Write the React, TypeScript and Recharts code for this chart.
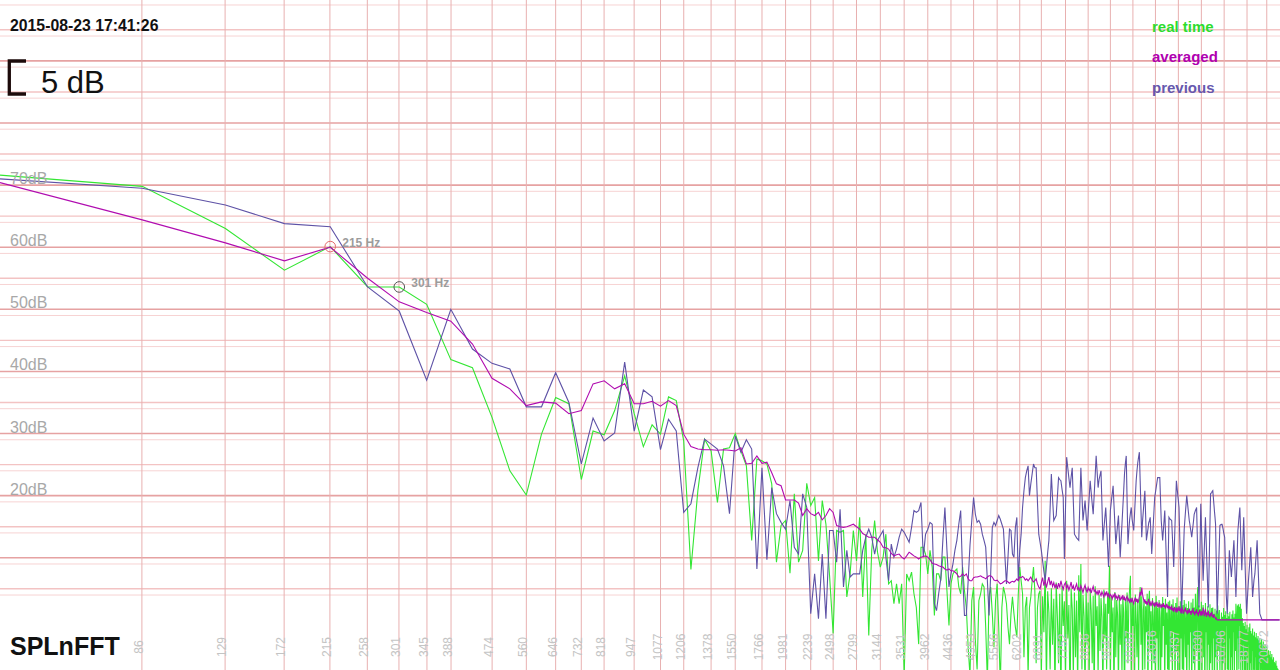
import { CartesianGrid, Line, LineChart, ReferenceDot, XAxis, YAxis } from "recharts";

const FONT = '"Liberation Sans", Arial, Helvetica, sans-serif';
const BIN_HZ = 44100 / 1024;

// FFT bins 1..511, dB
const REAL_TIME = [
  71.6, 69.8, 63.0, 56.3, 60.1, 53.6, 53.6, 50.8, 41.9, 40.6,
  32.6, 24.0, 20.1, 29.9, 35.8, 34.8, 22.6, 30.4, 29.8, 33.7,
  39.3, 33.2, 27.9, 31.4, 29.9, 35.9, 35.3, 28.8, 8.1, 20.8,
  29.1, 27.2, 18.9, 27.5, 27.7, 30.0, 27.2, 24.8, 12.8, 25.9,
  25.6, 25.1, 21.9, 9.3, 15.2, 16.0, 7.5, 20.3, 9.3, 11.2,
  22.0, 18.4, 19.7, 9.5, 19.2, 15.4, 7.1, -2.2, 14.4, 14.1,
  14.4, 3.7, 7.4, 14.4, 9.5, 16.5, 3.7, 13.8, -2.5, 11.2,
  16.0, 10.9, 8.5, 10.1, 13.8, 5.8, 6.3, 2.6, 5.8, 2.6,
  5.8, -9.0, 7.4, 6.3, 7.7, 4.2, 2.0, -3.9, 11.7, 11.7,
  10.6, 7.4, 11.2, 8.5, 0.7, 7.4, 7.4, 6.3, 10.1, 10.1,
  4.7, -0.9, 5.8, 7.4, 7.9, 8.2, 5.3, 4.2, 8.5, 4.7,
  2.0, -4.4, -9.0, 3.1, 5.3, -3.3, -8.0, 3.1, 4.2, 5.8,
  5.3, -1.2, -10, 3.7, 5.3, 1.0, -4.4, 3.1, 5.8, -1.2,
  -11, 2.0, 5.3, 4.2, 2.6, -1.2, -3.9, 1.0, 3.7, 1.0,
  -1.2, -2.8, 4.2, 8.5, 6.3, 4.2, -6.0, 2.0, 3.7, -9.0,
  2.0, 3.7, 6.3, 8.5, 4.7, -7.0, 2.0, 4.2, 4.7,
  -9, 3.8, -2, 9.5, -11, 4.6, 1.2, -8, 5.1, -4,
  3.4, -12, 6.0, 0.5, -7, 4.2, -13, 5.5, -1, 3.0,
  -10, 6.3, -3, 2.4, -14, 5.0, 1.8, -9, 4.4, -6,
  3.1, -11, 7.2, -2, 9.0, -8, 4.0, 0.6, -12, 5.2,
  -4, 2.8, -10, 4.7, 1.5, -7, 3.9, -13, 5.4, -1,
  2.2, -9, 4.1, -5, 3.5, 0.4, -12, 4.9, -3, 2.6,
  -8, 4.3, 1.0, 8.7, -10, 3.7, -2, 2.0, -13, 4.5,
  -6, 3.2, 0.8, -11, 4.0, -4, 2.5, -9, 3.8, 1.1,
  -14, 3.0, -3, 4.4, -7, 2.1, 5.0, 7.1, -10, 3.6,
  -1, 2.7, -12, 4.1, 0.2, -6, 3.3, -9, 2.4, 5.3,
  -4, 3.8, -11, 1.6, 3.0, -8, 2.2, -2, 4.2, -13,
  2.9, 4.7, -5, 1.4, -10, 3.5, 0.6, -7, 2.8, -12,
  3.9, -3, 1.9, -9, 3.2, 0.3, -14, 2.6, -6, 3.7,
  -1, 2.0, -11, 3.4, -4, 1.2, -8, 2.9, -13, 3.1,
  0.9, -6, 2.5, -10, 3.3, -2, 1.6, -12, 2.7, -5,
  3.6, -9, 0.7, 2.2, -14, 3.0, -3, 1.8, -8, 2.4,
  -11, 3.2, 0.1, -6, 2.6, -13, 1.9, -4, 3.0, -9,
  1.4, -2, 2.8, -12, 0.8, 3.4, -7, 2.0, -10, 4.2,
  1.1, -5, 3.8, 5.3, -9, 2.3, -14, 1.7, -3, 2.9,
  -11, 0.6, 2.4, -6, 1.5, -13, 2.7, -2, 0.9, -9,
  2.2, -4, 1.3, -12, 2.5, -7, 0.4, 1.9, -10, 2.0,
  -3, 1.0, -14, 1.8, -6, 0.2, 1.5, -11, 2.3, -5,
  0.7, 1.6, -9, 0.1, -2, 1.2, -13, 0.5, -7, 1.9,
  -4, 0.8, -12, 1.4, -1, 0.3, -8, 1.1, -10, 0.6,
  -3, 1.3, -14, 0.2, -6, 0.9, -11, 1.5, -2, 0.4,
  -9, 1.0, -5, 2.6, 0.1, -13, 2.3, -3, 2.5, -8,
  2.1, -1, 2.6, -10, 1.8, -6, 0.3, -12, -0.5, -4,
  -1.0, -9, -0.3, -14, -1.5, -6, -0.8, -11, -2.0, -4,
  -1.2, -13, -0.6, -7, -1.8, -10, -2.2, -5, -1.4, -12,
  -2.5, -8, -1.9, -14, -2.8, -6, -2.1, -11, -3.0, -9,
  -2.6, -13, -3.3, -7, -2.9, -10, -3.6, -12, -3.1, -8,
  -4.0, -14, -3.5, -9, -4.4, -11, -3.9, -13, -4.8, -10,
  -4.3, -12, -5.2, -9, -4.9, -14, -5.6, -11, -5.0, -13,
  -6.0, -10, -5.5, -12, -6.4, -14, -6.0, -11, -6.8, -13,
  -7.0, -12, -6.6, -14, -7.4, -11, -7.8, -13, -8.0, -12, -8.4, -14,
];

const AVERAGED = [
  70.4, 64.4, 60.7, 57.8, 60.0, 55.0, 51.2, 49.5, 48.1, 44.4,
  38.9, 37.2, 34.5, 35.1, 34.9, 33.2, 33.7, 38.0, 38.5, 37.2,
  38.0, 34.8, 34.8, 35.2, 34.4, 35.3, 34.5, 29.9, 27.9, 27.5,
  27.4, 27.4, 27.3, 27.4, 27.3, 27.2, 27.7, 25.1, 25.2, 26.4,
  25.2, 25.4, 23.7, 21.9, 21.6, 19.3, 19.3, 19.3, 18.8, 16.8,
  17.9, 17.1, 16.8, 17.3, 16.1, 16.8, 17.9, 17.3, 15.2, 15.0,
  14.9, 15.0, 15.2, 15.4, 15.0, 14.6, 13.9, 13.6, 13.3, 13.3,
  13.3, 12.9, 12.5, 11.7, 11.6, 11.4, 10.7, 10.3, 10.5, 10.6,
  10.1, 9.8, 10.3, 10.9, 10.6, 10.3, 10.1, 9.8, 10.1, 10.2,
  10.3, 10.1, 9.7, 9.1, 9.0, 8.9, 8.7, 8.6, 8.5, 8.2,
  8.0, 8.2, 7.9, 7.9, 7.7, 7.4, 6.9, 7.0, 7.4, 7.1,
  7.4, 6.6, 6.3, 6.3, 6.8, 6.9, 6.9, 7.0, 7.1, 6.9,
  6.8, 6.6, 6.9, 7.1, 7.1, 6.9, 6.4, 6.3, 6.4, 6.1,
  5.8, 5.9, 6.1, 6.3, 6.3, 6.1, 5.9, 6.1, 6.2, 6.1,
  6.3, 6.6, 6.3, 6.9, 6.8, 7.0, 6.8, 6.4, 6.6, 6.3,
  6.6, 6.9, 6.4, 6.1, 6.3, 6.6, 5.8, 5.3, 5.0,
  6.0, 6.8, 5.5, 6.4, 5.2, 6.1, 6.9, 5.6, 6.3, 5.4, 6.0, 5.1, 5.8,
  5.0, 5.9, 5.2, 6.3, 5.5, 4.9, 5.7, 6.0, 5.1, 5.6,
  4.8, 5.4, 6.1, 5.0, 5.5, 4.7, 5.3, 5.8, 4.9, 5.2,
  4.6, 5.5, 5.0, 4.4, 5.1, 5.6, 4.8, 4.5, 5.2, 4.7,
  5.0, 4.3, 4.9, 5.4, 4.6, 4.8, 4.2,
  4.6, 4.0, 4.8, 4.3, 3.9, 4.5, 4.1, 3.7, 4.4, 4.0,
  4.6, 3.8, 4.2, 3.6, 4.1, 3.9, 3.4, 4.0, 3.7, 4.3,
  3.5, 3.8, 3.3, 3.9, 3.6, 3.1, 3.7, 3.4, 4.0, 3.2,
  3.6, 3.0, 3.5, 3.8, 3.1, 3.4, 2.9,
  3.3, 2.8, 3.5, 3.0, 2.6, 3.2, 3.6, 2.9, 3.4, 2.7,
  3.1, 3.8, 4.5, 3.9, 5.2, 4.1, 3.5, 2.9, 3.3, 2.6,
  3.0, 2.4, 2.9, 3.4, 2.5, 2.8, 2.2, 2.7, 3.1, 2.4,
  2.6, 2.1, 2.8, 2.3, 2.9, 2.2, 2.5, 2.0, 2.6, 2.3,
  1.9, 2.5, 2.1, 2.7, 2.0, 2.4, 1.8, 2.2, 2.6, 1.9,
  2.3, 1.7, 2.1,
  2.0, 1.6, 2.3, 1.5, 1.9, 1.3, 2.1, 1.7, 1.4, 2.0,
  1.2, 1.8, 1.5, 2.2, 1.4, 1.7, 1.1, 1.6, 1.9, 1.3,
  1.0, 1.7, 1.4, 2.0, 1.2, 1.5, 0.9, 1.6, 1.3, 1.8,
  1.1, 1.4, 0.8, 1.5, 1.2, 1.9, 1.0, 1.3, 0.7, 1.4,
  1.1, 1.7, 0.9, 1.2, 0.6, 1.3, 1.6, 1.0, 0.8, 1.4,
  0.7, 1.1, 2.0, 1.2, 0.6, 1.0, 1.8, 0.9, 0.5, 1.2,
  0.8, 1.5, 0.6, 0.9, 0.4, 1.1, 0.7, 1.3, 0.5, 0.8,
  0.3, 0.9, 0.6, 0.4, 0.2, 0.3, 0.1,
  0, 0, 0, 0, 0, 0, 0, 0, 0, 0,
  0, 0, 0, 0, 0, 0, 0, 0, 0, 0,
  0, 0, 0, 0, 0, 0, 0, 0, 0, 0,
  0, 0, 0, 0, 0, 0, 0, 0, 0, 0,
  0, 0, 0, 0, 0, 0, 0, 0, 0, 0,
  0, 0, 0, 0, 0, 0, 0, 0, 0, 0,
  0, 0, 0, 0, 0, 0, 0, 0, 0, 0,
  0, 0, 0, 0, 0, 0, 0, 0, 0, 0,
  0, 0, 0, 0, 0, 0, 0, 0, 0, 0,
  0, 0, 0, 0, 0, 0, 0, 0, 0, 0,
  0, 0, 0, 0, 0, 0, 0, 0, 0, 0,
  0, 0, 0, 0, 0, 0, 0, 0, 0, 0,
  0, 0, 0, 0, 0, 0, 0, 0, 0, 0,
  0, 0, 0, 0, 0,
];

const PREVIOUS = [
  71.0, 69.5, 66.8, 63.8, 63.3, 53.6, 49.7, 38.6, 50.0, 43.6,
  41.3, 40.4, 34.3, 34.3, 39.8, 35.0, 25.1, 32.5, 28.8, 30.1,
  41.5, 30.4, 37.0, 35.9, 27.4, 32.3, 30.4, 17.3, 18.7, 24.5,
  29.1, 28.3, 27.5, 24.8, 17.1, 29.6, 27.0, 29.0, 27.5, 8.2,
  24.5, 9.7, 21.3, 17.1, 15.7, 14.6, 19.2, 11.7, 10.6, 20.3,
  18.1, 1.0, 7.4, 0.2, 10.6, 0.2, 14.4, 14.4, 9.3, 17.8,
  5.3, 11.2, 6.9, 7.4, 7.4, 7.4, 11.2, 13.3, 14.6, 13.3,
  10.6, 12.8, 13.6, 14.4, 10.1, 6.3, 12.2, 10.1, 11.4, 13.3,
  14.6, 14.1, 13.3, 12.5, 14.9, 17.6, 17.3, 17.6, 18.9, 10.1,
  13.8, 14.6, 15.7, 15.4, 2.6, 1.5, 4.2, 6.6, 12.8, 18.1,
  11.2, 5.3, 7.4, 9.0, 11.2, 12.8, 15.4, 17.6, 7.4, 0.7,
  0.7, 6.3, 12.0, 16.0, 19.7, 17.0, 15.7, 16.0, 15.4, 13.8,
  12.8, 11.7, 6.3, 0.7, 7.4, 14.9, 15.7, 15.2, 16.0, 16.8,
  16.2, 15.4, 14.6, 10.1, 5.8, 10.1, 14.6, 14.4, 10.6, 10.1,
  14.9, 16.5, 6.3, 11.2, 13.8, 18.1, 20.8, 22.9, 24.0, 24.8,
  20.0, 21.9, 23.5, 25.1, 24.5, 24.5, 19.0, 13.8, 12.5,
  11.2, 9.5, 7.8, 6.3, 8.5, 10.8, 12.8, 18.0, 23.5, 19.5,
  16.0, 16.4, 16.8, 19.8, 22.9, 22.6, 22.4, 21.0, 19.7, 9.8,
  18.0, 26.2, 24.5, 22.8, 21.3, 23.0, 24.5, 19.0, 13.8, 13.5,
  13.2, 13.0, 12.8, 18.6, 24.5, 20.2, 16.0, 17.6, 19.2, 16.8,
  14.4, 17.0, 19.7, 22.4, 20.5, 18.7, 17.0, 20.1, 23.2, 26.4,
  23.8, 21.3, 22.6, 23.3, 24.0, 18.4, 12.8, 14.6, 16.4, 18.1,
  14.9, 11.7, 8.5, 13.0, 17.6, 19.0, 20.3, 21.6, 18.4, 15.3,
  12.2, 13.7, 15.3, 16.8, 13.4, 10.1, 12.8, 15.4, 18.1, 20.8,
  23.6, 25.2, 26.4, 19.3, 12.2, 14.2, 16.1, 17.2, 18.1, 16.2,
  15.3, 14.4, 17.1, 19.8, 22.4, 24.0, 25.3, 26.2, 27.0, 22.4,
  17.8, 13.3, 15.9, 17.5, 19.2, 20.8, 16.8, 12.8, 13.7, 14.6,
  15.6, 16.0, 16.5, 13.6, 10.6, 12.9, 15.2, 17.5, 19.7, 20.5,
  21.3, 22.1, 22.9, 22.9, 22.9, 22.9, 19.4, 16.0, 14.4, 12.8,
  14.4, 16.0, 17.6, 14.1, 10.6, 7.2, 3.7, 10.1, 16.5, 16.3,
  16.2, 16.1, 16.0, 13.5, 11.0, 8.5, 12.0, 15.5, 19.0, 22.4,
  21.3, 20.2, 19.2, 18.1, 13.8, 9.6, 5.3, 1.0, 4.4, 7.9,
  11.3, 14.6, 16.0, 17.4, 18.7, 20.0, 19.0, 18.0, 17.0, 16.0,
  15.4, 14.7, 14.0, 13.3, 14.2, 15.1, 16.0, 17.0, 17.3, 17.6,
  17.8, 18.1, 14.1, 10.1, 6.0, 2.0, 7.6, 13.1, 18.7, 15.6,
  12.5, 9.4, 6.3, 8.8, 11.4, 14.0, 16.5, 13.6, 10.7, 7.8,
  4.9, 2.0, 6.6, 11.2, 15.8, 20.3, 20.4, 20.5, 20.7, 20.8,
  19.7, 18.6, 17.5, 16.5, 15.4, 10.6, 5.8, 1.0, 3.8, 6.7,
  9.5, 12.4, 15.2, 15.3, 15.3, 15.4, 15.4, 15.0, 14.6, 14.1,
  13.7, 13.3, 10.2, 7.2, 4.1, 2.5, 1.0, 3.6, 6.1, 8.7,
  11.2, 10.1, 9.0, 8.0, 6.9, 8.1, 9.2, 10.4, 11.6, 12.8,
  10.5, 8.2, 6.0, 3.7, 6.4, 9.0, 11.7, 14.4, 15.3, 16.3,
  17.2, 18.1, 15.6, 13.0, 10.5, 8.0, 10.1, 12.3, 14.4, 16.5,
  13.9, 11.2, 8.6, 6.0, 3.5, 1.0, 2.3, 3.7, 5.0, 6.3,
  7.4, 8.4, 9.5, 10.6, 11.7, 9.7, 7.7, 5.7, 3.7, 4.6,
  5.5, 6.4, 6.9, 7.4, 8.5, 9.6, 10.6, 11.7, 12.8, 10.8,
  8.9, 6.9, 5.0, 3.0, 1.0, 0.8, 0.6, 0.4, 0.2, 0,
  0, 0, 0, 0, 0, 0, 0, 0, 0, 0,
  0, 0, 0, 0, 0, 0, 0, 0, 0, 0,
  0, 0, 0, 0, 0, 0, 0, 0, 0, 0,
  0, 0, 0, 0, 0, 0, 0, 0, 0, 0,
  0, 0,
];

const TICK_HZ = [
  86, 129, 172, 215, 258, 301, 345, 388, 474, 560, 646, 732, 818, 947, 1077, 1206,
  1378, 1550, 1766, 1981, 2239, 2498, 2799, 3144, 3531, 3962, 4436, 4953, 5556,
  6202, 6891, 7752, 8656, 9647, 10767, 12016, 13437, 15030, 16796, 18777, 20672,
];
const DB_LABELS = [20, 30, 40, 50, 60, 70];
const DB_LINES = Array.from({ length: 99 }, (_, i) => i + 1);
const DB_MINOR = DB_LINES.filter((v) => v % 5 !== 0);
const DB_HALF = DB_LINES.filter((v) => v % 10 === 5);
const DB_MAJOR = DB_LINES.filter((v) => v % 10 === 0);

const PEAKS = [
  { bin: 5, label: "215 Hz", color: "#e46a6a" },
  { bin: 7, label: "301 Hz", color: "#555555" },
];

const LEGEND = [
  { name: "real time", color: "#2ddc2d" },
  { name: "averaged", color: "#b000b0" },
  { name: "previous", color: "#6658ae" },
];

function HzTick(p: any) {
  const x = p.x - 3;
  const y = 647;
  return (
    <text
      x={x}
      y={y}
      transform={`rotate(-90 ${x} ${y})`}
      textAnchor="middle"
      dominantBaseline="central"
      fill="#c4c4c4"
      fontSize={12}
      fontFamily={FONT}
    >
      {p.payload.value}
    </text>
  );
}

function DbTick(p: any) {
  return (
    <text x={10} y={p.y - 1} fill="#a8a8a8" fontSize={16} fontFamily={FONT}>
      {`${p.payload.value}dB`}
    </text>
  );
}

function peakShape(label: string, color: string) {
  return (p: any) => (
    <g>
      <circle cx={p.cx} cy={p.cy} r={5.3} fill="none" stroke={color} strokeWidth={1} />
      <text x={p.cx + 12} y={p.cy} fill="#9c9c9c" fontSize={12} fontWeight="bold" fontFamily={FONT}>
        {label}
      </text>
    </g>
  );
}

export default function App() {
  const rows = REAL_TIME.map((v, i) => ({
    hz: (i + 1) * BIN_HZ,
    real: v,
    avg: AVERAGED[i],
    prev: PREVIOUS[i],
  }));

  return (
    <div style={{ position: "fixed", left: 0, top: 0, width: 1280, height: 670, background: "#fff" }}>
      <LineChart width={1280} height={670} data={rows} margin={{ top: 0, right: 0, bottom: 0, left: 0 }}>
        <CartesianGrid vertical={false} horizontalValues={DB_MINOR} stroke="#f7d3d3" strokeWidth={1} />
        <CartesianGrid vertical={false} horizontalValues={DB_HALF} stroke="#f3c3c3" strokeWidth={1.4} />
        <CartesianGrid vertical={false} horizontalValues={DB_MAJOR} stroke="#e6a2a2" strokeWidth={1.6} />
        <CartesianGrid horizontal={false} verticalValues={TICK_HZ} stroke="#e8b0b0" strokeWidth={1} />
        <XAxis
          dataKey="hz"
          type="number"
          scale="log"
          domain={[BIN_HZ, 512 * BIN_HZ]}
          allowDataOverflow
          ticks={TICK_HZ}
          interval={0}
          mirror
          axisLine={false}
          tickLine={false}
          tick={HzTick}
        />
        <YAxis
          type="number"
          domain={[-8.07, 99.8]}
          allowDataOverflow
          ticks={DB_LABELS}
          mirror
          axisLine={false}
          tickLine={false}
          tick={DbTick}
        />
        <Line dataKey="real" stroke="#33e633" strokeWidth={1.1} dot={false} activeDot={false} isAnimationActive={false} />
        <Line dataKey="prev" stroke="#5e52a6" strokeWidth={1.1} dot={false} activeDot={false} isAnimationActive={false} />
        <Line dataKey="avg" stroke="#b00cb0" strokeWidth={1.1} dot={false} activeDot={false} isAnimationActive={false} />
        {PEAKS.map((pk) => (
          <ReferenceDot
            key={pk.label}
            x={pk.bin * BIN_HZ}
            y={REAL_TIME[pk.bin - 1]}
            r={5}
            shape={peakShape(pk.label, pk.color)}
          />
        ))}
      </LineChart>
      <svg
        width={1280}
        height={670}
        style={{ position: "absolute", left: 0, top: 0, pointerEvents: "none" }}
        fontFamily={FONT}
      >
        <text x={10} y={31} fontSize={15.8} fontWeight="bold" fill="#111">
          2015-08-23 17:41:26
        </text>
        <path d="M 26 61 H 9.3 V 94 H 26" fill="none" stroke="#1c0a0a" strokeWidth={3.3} />
        <text x={41} y={93} fontSize={31} fill="#111">
          5 dB
        </text>
        <text x={10} y={655} fontSize={25} fontWeight="bold" fill="#111">
          SPLnFFT
        </text>
        {LEGEND.map((l, i) => (
          <text key={l.name} x={1152} y={31.5 + i * 30.5} fontSize={15} fontWeight="bold" fill={l.color}>
            {l.name}
          </text>
        ))}
      </svg>
    </div>
  );
}
